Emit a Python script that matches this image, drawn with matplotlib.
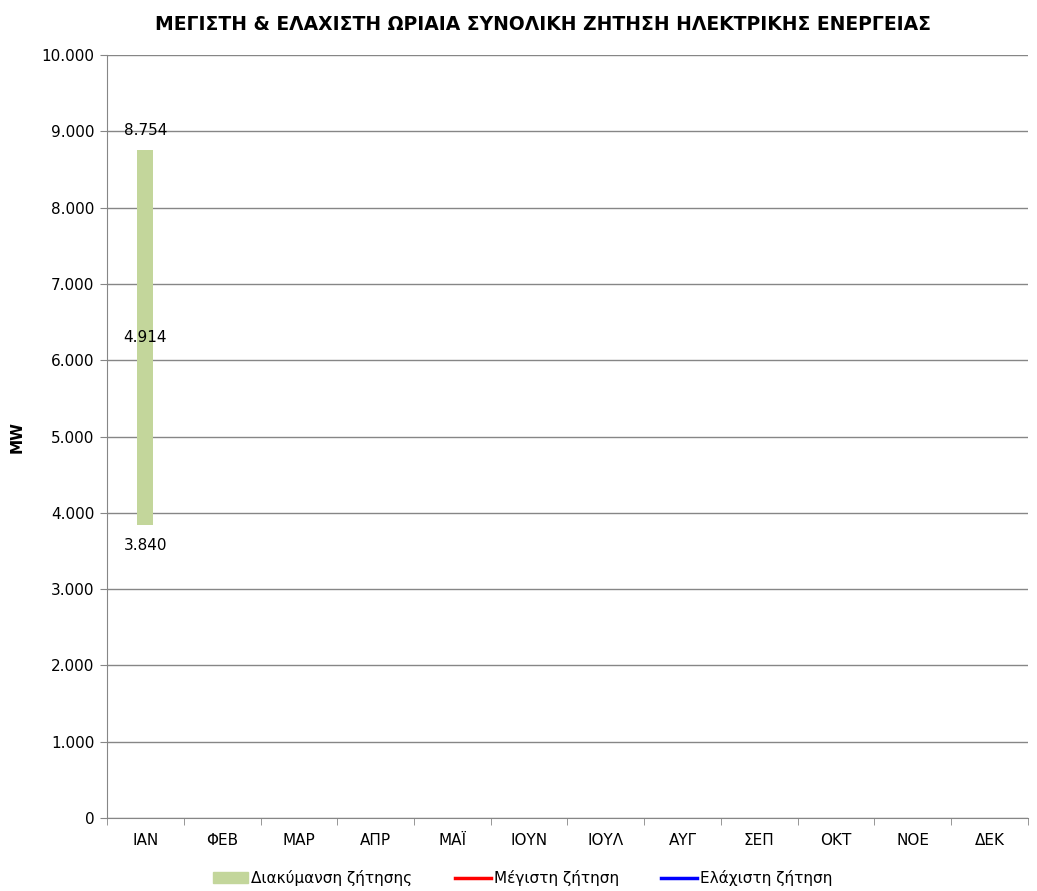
import numpy as np
import matplotlib.pyplot as plt
from matplotlib.patches import Patch
from matplotlib.lines import Line2D

months = ["ΙΑΝ", "ΦΕΒ", "ΜΑΡ", "ΑΠΡ", "ΜΑΪ", "ΙΟΥΝ", "ΙΟΥΛ", "ΑΥΓ", "ΣΕΠ", "ΟΚΤ", "ΝΟΕ", "ΔΕΚ"]
max_demand = [8754] + [np.nan] * 11
min_demand = [3840] + [np.nan] * 11

max_arr = np.array(max_demand, dtype=float)
min_arr = np.array(min_demand, dtype=float)
spread = max_arr - min_arr

plt.rcParams['font.family'] = ['DejaVu Sans']

fig = plt.figure(figsize=(10.37, 8.91), dpi=100)
ax = fig.add_axes([0.1032, 0.0819, 0.8881, 0.8564])

x = np.arange(len(months))
green = "#c3d69b"
grid_c = "#868686"

# floating bar: invisible base at the minimum, green span up to the maximum
ax.bar(x, spread, bottom=min_arr, width=0.21, color=green, zorder=3)
ax.plot(x, max_arr, color="red", lw=2.5, zorder=4)
ax.plot(x, min_arr, color="blue", lw=2.5, zorder=4)

def lab(v):
    return f"{v:,.0f}".replace(",", ".")

for i in range(len(months)):
    if np.isnan(spread[i]):
        continue
    ax.text(x[i], max_arr[i] + 260, lab(max_arr[i]), ha="center", va="center", fontsize=11, zorder=5)
    ax.text(x[i], min_arr[i] + spread[i] / 2, lab(spread[i]), ha="center", va="center", fontsize=11, zorder=5)
    ax.text(x[i], min_arr[i] - 275, lab(min_arr[i]), ha="center", va="center", fontsize=11, zorder=5)

ax.set_xlim(-0.5, len(months) - 0.5)
ax.set_ylim(0, 10000)
yt = np.arange(0, 10001, 1000)
ax.set_yticks(yt)
ax.set_yticklabels([f"{v:,}".replace(",", ".") for v in yt], fontsize=11)
ax.set_xticks(x)
ax.set_xticklabels(months, fontsize=11)
ax.set_xticks(np.arange(-0.5, len(months), 1), minor=True)
ax.tick_params(axis="x", which="major", length=0, pad=11)
ax.tick_params(axis="x", which="minor", length=5, color=grid_c, direction="out")
ax.tick_params(axis="y", length=5, color=grid_c, direction="out", pad=4)

ax.yaxis.grid(True, color=grid_c, lw=1, zorder=0)
for s in ["top", "right"]:
    ax.spines[s].set_visible(False)
for s in ["left", "bottom"]:
    ax.spines[s].set_color(grid_c)

ax.set_ylabel("MW", fontsize=11, fontweight="bold", labelpad=12)
fig.text(0.524, 0.972, "ΜΕΓΙΣΤΗ & ΕΛΑΧΙΣΤΗ ΩΡΙΑΙΑ ΣΥΝΟΛΙΚΗ ΖΗΤΗΣΗ ΗΛΕΚΤΡΙΚΗΣ ΕΝΕΡΓΕΙΑΣ",
         ha="center", va="center", fontsize=13.5, fontweight="bold")

handles = [Patch(color=green, label="Διακύμανση ζήτησης"),
           Line2D([], [], color="red", lw=2.5, label="Μέγιστη ζήτηση"),
           Line2D([], [], color="blue", lw=2.5, label="Ελάχιστη ζήτηση")]
fig.legend(handles=handles, loc="center", bbox_to_anchor=(0.504, 0.0146), ncol=3, frameon=False,
           fontsize=11, handlelength=2.3, handletextpad=0.2, columnspacing=2.8)

fig.savefig("out.png", dpi=100)
